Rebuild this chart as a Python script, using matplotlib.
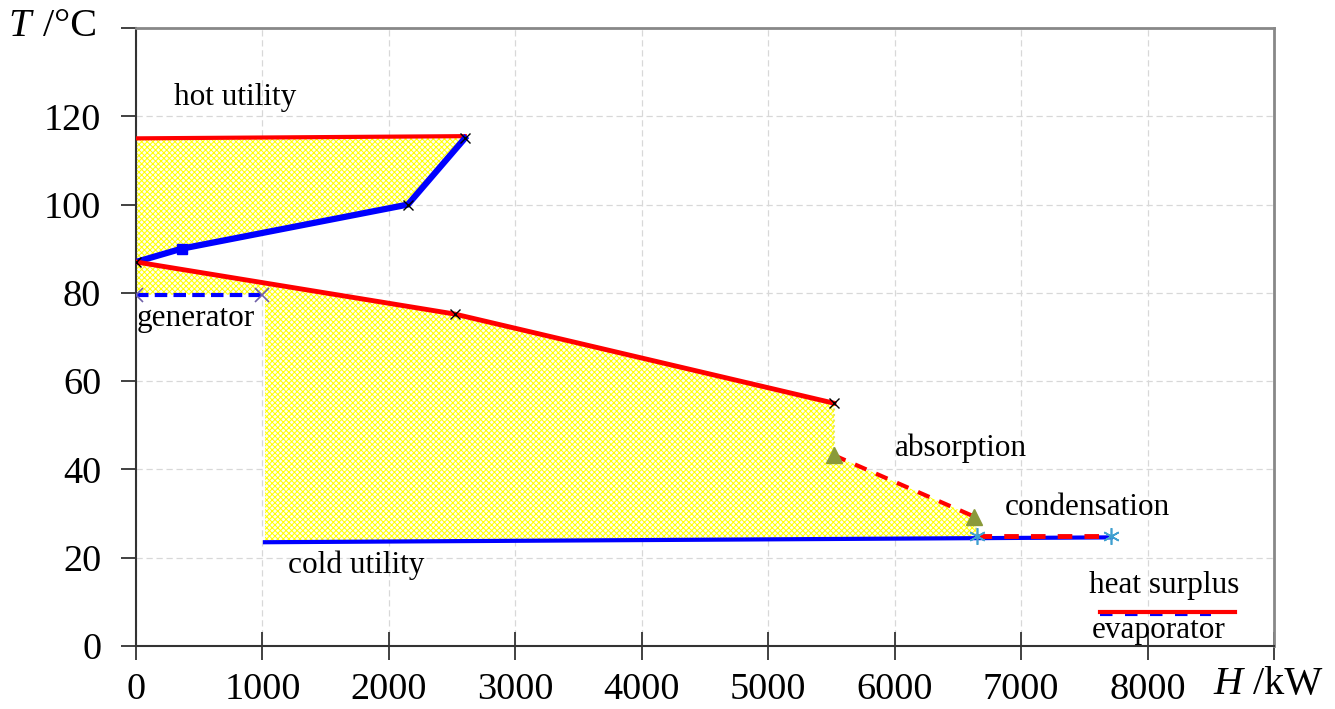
import matplotlib
matplotlib.use("Agg")
import matplotlib.pyplot as plt
import numpy as np

plt.rcParams['font.family'] = ['Liberation Serif', 'DejaVu Serif']
plt.rcParams['hatch.linewidth'] = 0.7

# Data
hot_util_H = [0, 2600]
hot_util_T = [115, 115.5]

cold_comp_H = [0, 360, 2150, 2600]
cold_comp_T = [87, 90, 100, 115]

hot_comp_H = [0, 2520, 5520]
hot_comp_T = [87, 75.2, 55]

absorb_H = [5520, 6630]
absorb_T = [43.2, 29.3]

cond_H = [6650, 7710]
cond_T = [25, 25]

gen_H = [0, 1000]
gen_T = [79.6, 79.6]

cold_util_H = [1020, 7710]
cold_util_T = [23.5, 24.6]

surplus_H = [7620, 8690]
surplus_T = [7.6, 7.6]
evap_H = [7620, 8500]
evap_T = [7.2, 7.2]

labels = [
    ("hot utility", 300, 124.3),
    ("generator", 5, 74.3),
    ("absorption", 6000, 44.7),
    ("condensation", 6870, 31.4),
    ("cold utility", 1200, 18.3),
    ("heat surplus", 7540, 13.6),
    ("evaporator", 7560, 3.4),
]

fig = plt.figure(figsize=(13.35, 7.09), dpi=100)
ax = fig.add_axes([0.1019, 0.0889, 0.8524, 0.8716])
ax.set_xlim(0, 9000)
ax.set_ylim(0, 140)

fill_kw = dict(facecolor='#fffff0', edgecolor='#ffff00', hatch='xxxxxx', linewidth=0, zorder=1)

# Fill 1: between hot utility and cold composite
Hg = np.array(cold_comp_H, dtype=float)
top1 = np.interp(Hg, hot_util_H, hot_util_T)
ax.fill_between(Hg, cold_comp_T, top1, **fill_kw)

# Fill 2: below hot composite curves down to generator/cold utility
poly_x = list(hot_comp_H) + list(absorb_H) + [cond_H[0]]
poly_y = list(hot_comp_T) + list(absorb_T) + [cond_T[0]]
cu_end = np.interp(cond_H[0], cold_util_H, cold_util_T)
poly_x += [cond_H[0], cold_util_H[0], cold_util_H[0], 0]
poly_y += [cu_end, cold_util_T[0], gen_T[0], gen_T[0]]
ax.fill(poly_x, poly_y, **fill_kw)

# Lines
ax.plot(hot_util_H, hot_util_T, color='red', lw=3, zorder=3)
ax.plot(cold_comp_H, cold_comp_T, color='blue', lw=4.5, zorder=3)
ax.plot(cold_comp_H[0:1] + cold_comp_H[2:], cold_comp_T[0:1] + cold_comp_T[2:], ls='none',
        marker='x', color='black', ms=7, mew=1, zorder=4)
ax.plot(cold_comp_H[1:2], cold_comp_T[1:2], ls='none', marker='s', color='blue', ms=7, zorder=4)
ax.plot(hot_comp_H, hot_comp_T, color='red', lw=3.5, zorder=3)
ax.plot(hot_comp_H[1:], hot_comp_T[1:], ls='none', marker='x', color='black', ms=7, mew=1, zorder=4)
ax.plot([hot_comp_H[-1], absorb_H[0]], [hot_comp_T[-1], absorb_T[0]], color='#e8e860', lw=1.5, ls=':', zorder=3)
ax.plot(absorb_H, absorb_T, color='red', lw=3, ls=(0, (3, 2.5)), zorder=3)
ax.plot(absorb_H, absorb_T, ls='none', marker='^', color='#8a9a3a', ms=11, zorder=4)
ax.plot([absorb_H[1], cond_H[0]], [absorb_T[1], cond_T[0]], color='#e8e860', lw=1.5, ls=':', zorder=3)
ax.plot(cold_util_H, cold_util_T, color='blue', lw=3, zorder=3)
ax.plot(cond_H, cond_T, color='red', lw=3.5, ls=(0, (3, 2.5)), zorder=4)
ax.plot(cond_H, cond_T, ls='none', marker=(6, 2, 0), color='#40a0d0', ms=12, mew=1.2, zorder=5)
ax.plot(gen_H, gen_T, color='blue', lw=3, ls=(0, (3, 1.5)), zorder=3)
ax.plot(gen_H, gen_T, ls='none', marker='x', color='#7060a8', ms=10, mew=1.2, zorder=4)
ax.plot(evap_H, evap_T, color='blue', lw=3, ls=(0, (3, 3)), zorder=3)
ax.plot(surplus_H, surplus_T, color='red', lw=3, zorder=4)

for txt, x, y in labels:
    ax.text(x, y, txt, fontsize=22.5, va='center', ha='left', zorder=6)

# Axes styling
ax.set_xticks(np.arange(0, 9001, 1000))
ax.set_yticks(np.arange(0, 141, 20))
ax.set_xticklabels([str(v) for v in range(0, 8001, 1000)] + [''])
ax.set_yticklabels([str(v) for v in range(0, 121, 20)] + [''])
ax.tick_params(axis='x', direction='inout', length=20, width=1.3, labelsize=27.5, pad=9, colors='#333333', labelcolor='black')
ax.tick_params(axis='y', direction='out', length=11, width=1.3, labelsize=27.5, pad=14, colors='#333333', labelcolor='black')
ax.grid(True, color='#d8d8d8', ls=(0, (5, 3)), lw=0.9)
ax.set_axisbelow(True)
for s in ['left', 'bottom']:
    ax.spines[s].set_color('#333333')
    ax.spines[s].set_linewidth(1.5)
for s in ['right', 'top']:
    ax.spines[s].set_color('#888888')
    ax.spines[s].set_linewidth(2)

fig.text(8 / 1335, 0.963, 'T', fontsize=29, style='italic', va='center', ha='left')
fig.text(43 / 1335, 0.963, '/°C', fontsize=29, va='center', ha='left')
fig.text(1213 / 1335, 0.034, 'H', fontsize=29, style='italic', va='center', ha='left')
fig.text(1253 / 1335, 0.034, '/kW', fontsize=29, va='center', ha='left')
fig.savefig('out.png', dpi=100)
